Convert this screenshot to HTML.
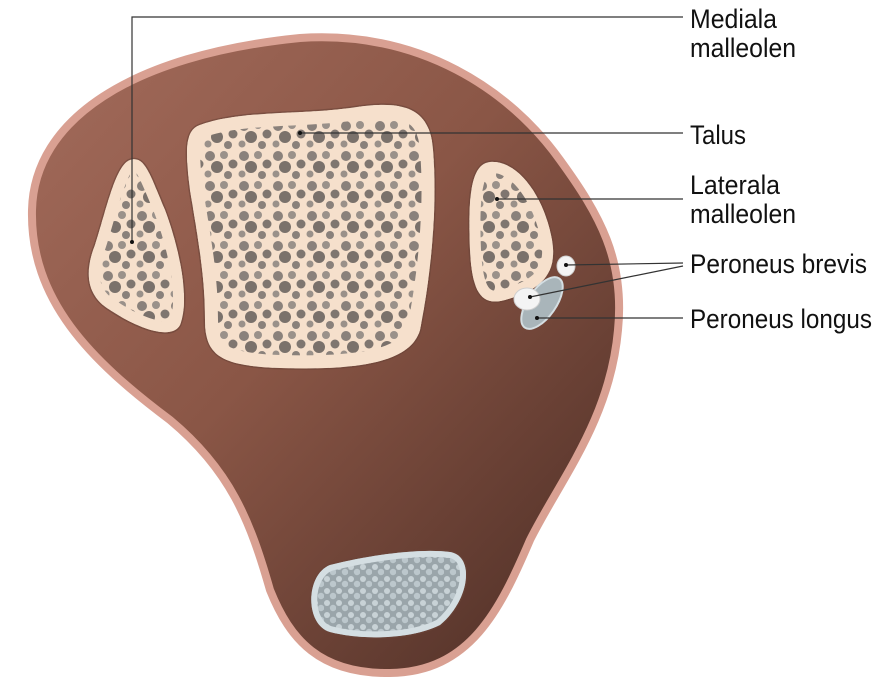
<!DOCTYPE html>
<html><head><meta charset="utf-8"><style>
html,body{margin:0;padding:0;background:#fff;}
svg{display:block;}
text{font-family:"Liberation Sans",sans-serif;font-size:27px;fill:#111;}
</style></head><body>
<svg width="886" height="687" viewBox="0 0 886 687" xmlns="http://www.w3.org/2000/svg">
<defs>
<linearGradient id="skin" x1="0" y1="0" x2="1" y2="1">
<stop offset="0" stop-color="#a36b5b"/><stop offset="0.45" stop-color="#8a5646"/><stop offset="1" stop-color="#4a2c24"/>
</linearGradient>
<pattern id="pores" width="34" height="30" patternUnits="userSpaceOnUse">
<rect width="34" height="30" fill="#f6e0cc"/>
<circle cx="6" cy="6" r="5" fill="#8a817b"/>
<circle cx="20" cy="5" r="4" fill="#9a918a"/>
<circle cx="29" cy="14" r="4.5" fill="#7f7670"/>
<circle cx="13" cy="17" r="6" fill="#7a716b"/>
<circle cx="4" cy="24" r="3.5" fill="#9a918a"/>
<circle cx="24" cy="25" r="4" fill="#8a817b"/>
</pattern>
<pattern id="tend" width="12" height="12" patternUnits="userSpaceOnUse">
<rect width="12" height="12" fill="#9aa5aa"/>
<circle cx="3" cy="3" r="3" fill="#c8d2d6"/><circle cx="9" cy="8" r="3.2" fill="#bcc7cc"/>
</pattern>
<clipPath id="c1"><path id="p1" d="M130,160 C145,155 150,175 165,210 C180,250 190,300 180,325 C172,340 140,330 110,310 C85,295 85,270 95,245 C105,215 115,165 130,160 Z"/></clipPath>
<clipPath id="c2"><path id="p2" d="M200,125 C240,110 300,115 350,108 C400,100 430,105 433,150 C438,210 430,280 420,330 C410,365 350,370 280,368 C220,366 205,355 205,320 C205,280 200,250 190,190 C185,150 185,130 200,125 Z"/></clipPath>
<clipPath id="c3"><path id="p3" d="M490,162 C520,160 545,200 552,240 C558,275 540,290 505,300 C480,307 472,290 470,250 C468,200 470,164 490,162 Z"/></clipPath>
<clipPath id="c4"><path id="p4" d="M330,565 C370,555 420,548 450,552 C475,556 470,600 440,625 C410,640 360,640 330,632 C305,625 305,575 330,565 Z"/></clipPath>
</defs>
<path d="M300,38 C420,30 510,90 560,160 C600,215 625,260 618,330 C610,420 560,480 530,540 C500,610 470,672 390,673 C320,674 290,640 270,590 C250,520 230,470 170,420 C90,360 30,300 32,210 C34,120 130,55 300,38 Z" fill="url(#skin)" stroke="#d9a092" stroke-width="8"/>
<g stroke="#6a4438" stroke-width="3" fill="none" opacity="0.6">
<use href="#p1"/><use href="#p2"/><use href="#p3"/><use href="#p4"/>
</g>
<g clip-path="url(#c1)"><rect x="80" y="150" width="120" height="200" fill="url(#pores)"/><use href="#p1" fill="none" stroke="#f6e0cc" stroke-width="22"/></g>
<g clip-path="url(#c2)"><rect x="180" y="100" width="260" height="280" fill="url(#pores)"/><use href="#p2" fill="none" stroke="#f6e0cc" stroke-width="26"/></g>
<g clip-path="url(#c3)"><rect x="460" y="155" width="100" height="160" fill="url(#pores)"/><use href="#p3" fill="none" stroke="#f6e0cc" stroke-width="22"/></g>
<g clip-path="url(#c4)"><rect x="300" y="540" width="180" height="110" fill="url(#tend)"/><use href="#p4" fill="none" stroke="#d4dee2" stroke-width="12"/></g>
<ellipse cx="542" cy="303" rx="14" ry="30" transform="rotate(35 542 303)" fill="#a9b5ba" stroke="#d4dee2" stroke-width="2"/>
<ellipse cx="566" cy="266" rx="9" ry="10" fill="#f4f4f4" stroke="#cfcfcf"/>
<ellipse cx="527" cy="299" rx="13" ry="11" fill="#f4f4f4" stroke="#cfcfcf"/>
<g stroke="#333" stroke-width="1.2" fill="none">
<polyline points="132,242 132,17 683,17"/>
<line x1="300" y1="133" x2="683" y2="133"/>
<line x1="497" y1="199" x2="683" y2="199"/>
<line x1="566" y1="265" x2="683" y2="263"/>
<line x1="530" y1="297" x2="683" y2="266"/>
<line x1="537" y1="318" x2="683" y2="318"/>
</g>
<g fill="#111"><circle cx="132" cy="242" r="2"/><circle cx="300" cy="133" r="2"/><circle cx="497" cy="199" r="2"/><circle cx="566" cy="265" r="2"/><circle cx="530" cy="297" r="2"/><circle cx="537" cy="318" r="2"/></g>
<text x="690" y="28" textLength="87" lengthAdjust="spacingAndGlyphs">Mediala</text>
<text x="690" y="57" textLength="106" lengthAdjust="spacingAndGlyphs">malleolen</text>
<text x="690" y="144" textLength="56" lengthAdjust="spacingAndGlyphs">Talus</text>
<text x="690" y="194" textLength="90" lengthAdjust="spacingAndGlyphs">Laterala</text>
<text x="690" y="223" textLength="106" lengthAdjust="spacingAndGlyphs">malleolen</text>
<text x="690" y="273" textLength="177" lengthAdjust="spacingAndGlyphs">Peroneus brevis</text>
<text x="690" y="328" textLength="182" lengthAdjust="spacingAndGlyphs">Peroneus longus</text>
</svg>
</body></html>
